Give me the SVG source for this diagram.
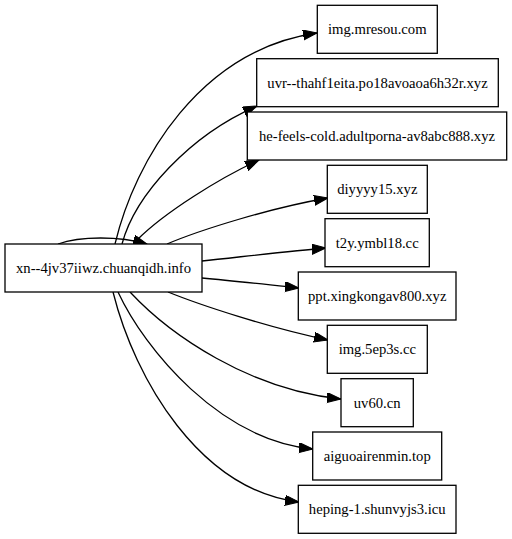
<svg xmlns="http://www.w3.org/2000/svg" width="512" height="539" viewBox="0 0 512 539">
<defs>
<style>
.node rect{fill:#fff;stroke:#000;stroke-width:1.3}
.node text{font-family:"Liberation Serif","Times New Roman",serif;font-size:14.67px;text-anchor:middle;fill:#000}
#edges path{fill:none;stroke:#000;stroke-width:1.3;marker-end:url(#ah)}
</style>
<marker id="ah" markerUnits="userSpaceOnUse" markerWidth="15" markerHeight="11" refX="14" refY="5" orient="auto">
<path d="M0,0 L14,5 L0,10 z" fill="#000" stroke="#000" stroke-width="1"/>
</marker>
</defs>
<rect width="512" height="539" fill="#fff"/>
<g id="edges">
<path d="M58,244 C80,236 120,236 147,244"/>
<path d="M115,244 C135,160 200,50 317,33"/>
<path d="M122,244 C135,195 190,135 257,106"/>
<path d="M137,240 C165,212 220,178 259,160"/>
<path d="M167,244 C200,230 270,208 328,198"/>
<path d="M202,261 C240,257 290,251 326,248"/>
<path d="M202,278 C235,281 270,285 299,288"/>
<path d="M168,292 C200,305 270,328 328,340"/>
<path d="M130,292 C170,335 250,390 341,399"/>
<path d="M118,292 C145,350 220,440 313,449"/>
<path d="M113,292 C135,380 200,490 299,502"/>
</g>
<g id="n0" class="node"><rect x="5" y="244" width="197" height="48"/><text x="103.5" y="273">xn--4jv37iiwz.chuanqidh.info</text></g>
<g id="n1" class="node"><rect x="317.3" y="5.3" width="120" height="48"/><text x="377.3" y="34">img.mresou.com</text></g>
<g id="n2" class="node"><rect x="256.7" y="58.7" width="241.6" height="48"/><text x="377.5" y="88">uvr--thahf1eita.po18avoaoa6h32r.xyz</text></g>
<g id="n3" class="node"><rect x="247.3" y="112" width="259.4" height="48"/><text x="377" y="141">he-feels-cold.adultporna-av8abc888.xyz</text></g>
<g id="n4" class="node"><rect x="327.3" y="165.3" width="100" height="48"/><text x="377.3" y="194">diyyyy15.xyz</text></g>
<g id="n5" class="node"><rect x="325" y="218.7" width="104.3" height="48"/><text x="377.2" y="247.5">t2y.ymbl18.cc</text></g>
<g id="n6" class="node"><rect x="298.3" y="272" width="157.7" height="48"/><text x="377.2" y="301">ppt.xingkongav800.xyz</text></g>
<g id="n7" class="node"><rect x="327.3" y="325.3" width="100" height="48"/><text x="377.3" y="354">img.5ep3s.cc</text></g>
<g id="n8" class="node"><rect x="341" y="378.7" width="72.3" height="48"/><text x="377.2" y="407.5">uv60.cn</text></g>
<g id="n9" class="node"><rect x="312.7" y="432" width="129" height="48"/><text x="377.2" y="461">aiguoairenmin.top</text></g>
<g id="n10" class="node"><rect x="298.3" y="485.3" width="157.7" height="48"/><text x="377.2" y="514">heping-1.shunvyjs3.icu</text></g>
</svg>
